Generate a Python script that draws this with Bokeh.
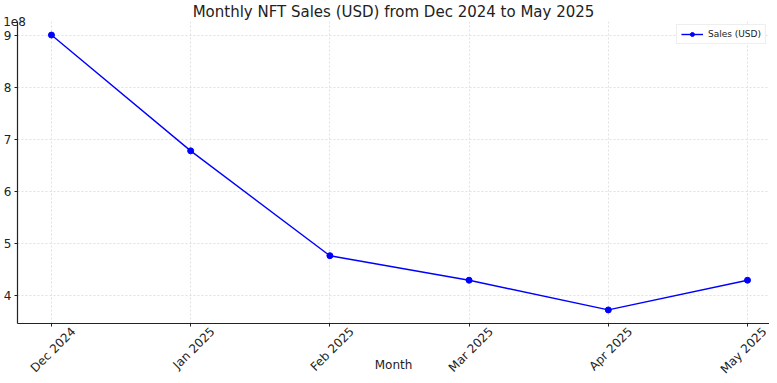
import math
from bokeh.plotting import figure
from bokeh.models import Range1d, CustomJSTickFormatter, Legend, LegendItem, FixedTicker
from bokeh.embed import file_html
from bokeh.resources import INLINE

months = ["Dec 2024", "Jan 2025", "Feb 2025", "Mar 2025", "Apr 2025", "May 2025"]
sales = [900e6, 678e6, 477e6, 430e6, 373e6, 430e6]
y_ticks = [4e8, 5e8, 6e8, 7e8, 8e8, 9e8]

xs = list(range(len(months)))
FONT = "DejaVu Sans"
TXT = "#222222"
LABEL_SHIFT = 0.158  # shifts rotated labels so their centres sit on the ticks

p = figure(width=769, height=375, output_backend="svg", toolbar_location=None,
           x_range=Range1d(-0.244, 5.158), y_range=Range1d(3.47e8, 9.26e8),
           min_border_left=0, min_border_right=0, min_border_top=0, min_border_bottom=0)

p.title.text = "Monthly NFT Sales (USD) from Dec 2024 to May 2025"
p.title.align = "center"
p.title.text_font = FONT
p.title.text_font_size = "15px"
p.title.text_font_style = "normal"
p.title.text_color = TXT
p.title.standoff = 1
p.title.offset = 0

line = p.line(xs, sales, line_color="#0000ff", line_width=1.4)
pts = p.scatter(xs, sales, size=6, fill_color="#0000ff", line_color="#0000ff")

p.outline_line_color = None

xa = p.xaxis[0]
xa.ticker = FixedTicker(ticks=[i + LABEL_SHIFT for i in xs], minor_ticks=xs)
xa.formatter = CustomJSTickFormatter(args=dict(names=months, sh=LABEL_SHIFT),
                                     code="return names[Math.round(tick - sh)];")
xa.major_label_orientation = math.pi / 4
xa.major_tick_line_color = None
xa.minor_tick_line_color = TXT
xa.minor_tick_out = 3
xa.minor_tick_in = 0
xa.axis_label = "Month"
p.xgrid.ticker = FixedTicker(ticks=xs)

ya = p.yaxis[0]
ya.ticker = FixedTicker(ticks=y_ticks)
ya.formatter = CustomJSTickFormatter(code="return (tick/1e8).toFixed(0);")
ya.major_tick_line_color = TXT
ya.minor_tick_line_color = None
ya.axis_label = "1e8"
ya.axis_label_orientation = "horizontal"
ya.axis_label_standoff = -25
try:
    ya.axis_label_align = "end"
except Exception:
    pass
ya.axis_label_text_font = FONT
ya.axis_label_text_font_size = "12px"
ya.axis_label_text_font_style = "normal"
ya.axis_label_text_color = TXT

for ax in (xa, ya):
    ax.major_label_text_font = FONT
    ax.major_label_text_font_size = "12px"
    ax.major_label_text_color = TXT
    ax.axis_line_color = TXT
    ax.axis_line_width = 1.2
    ax.major_tick_out = 3
    ax.major_tick_in = 0
    ax.major_label_standoff = 3
xa.axis_label_text_font = FONT
xa.axis_label_text_font_size = "12px"
xa.axis_label_text_font_style = "normal"
xa.axis_label_text_color = TXT
xa.axis_label_standoff = -26

for g in (p.xgrid, p.ygrid):
    g.grid_line_color = "#d9d9d9"
    g.grid_line_dash = "2 2"
    g.grid_line_width = 0.8

legend = Legend(items=[LegendItem(label="Sales (USD)", renderers=[line, pts])],
                location="top_right", label_text_font=FONT, label_text_font_size="9px",
                label_text_color=TXT,
                border_line_color="#dddddd", background_fill_alpha=0.9,
                glyph_width=22, glyph_height=10, label_height=10, padding=4, spacing=0,
                margin=3, label_standoff=5)
p.add_layout(legend)

open("out.html", "w").write(file_html(p, INLINE))
